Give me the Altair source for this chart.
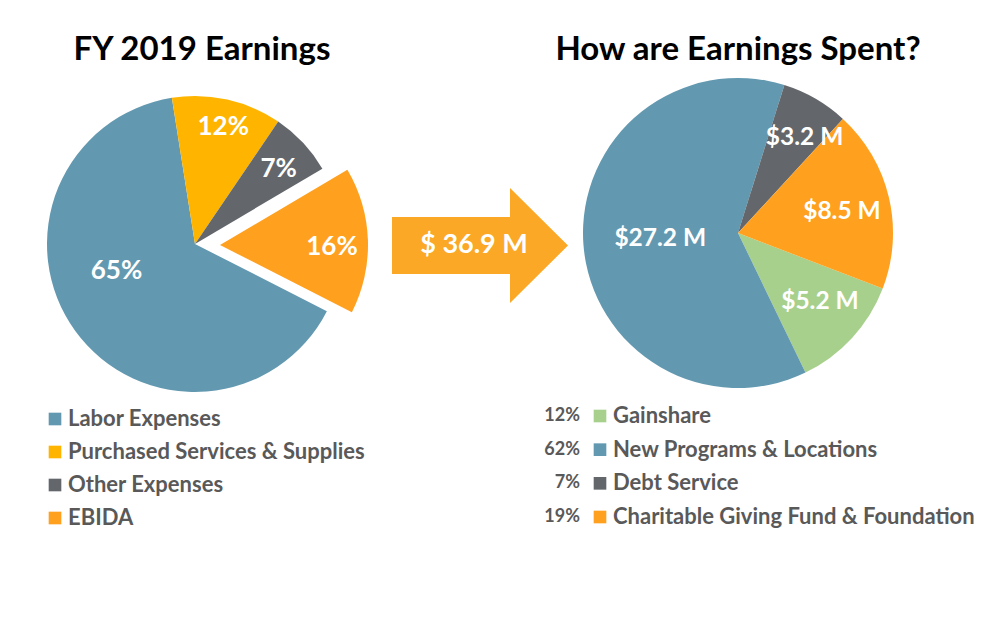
import math
import altair as alt
import pandas as pd

# ---------------- data ----------------
LEFT_TITLE = "FY 2019 Earnings"
RIGHT_TITLE = "How are Earnings Spent?"

LEFT_CATS = ["Labor Expenses", "Purchased Services & Supplies", "Other Expenses", "EBIDA"]
LEFT_PCT = [65, 12, 7, 16]

RIGHT_CATS = ["Gainshare", "New Programs & Locations", "Debt Service",
              "Charitable Giving Fund & Foundation"]
RIGHT_PCT = [12, 62, 7, 19]
RIGHT_AMT = ["$5.2 M", "$27.2 M", "$3.2 M", "$8.5 M"]

TOTAL_LABEL = "$ 36.9 M"
EXPLODED = "EBIDA"

# ---------------- styles / layout ----------------
FONT = "Lato"
LEFT_COLORS = ["#6399B0", "#FFB500", "#63676C", "#FFA01E"]
RIGHT_COLORS = ["#A8D08D", "#6399B0", "#63676C", "#FFA01E"]
ARROW_COLOR = "#FAA825"
LEGEND_GREY = "#595959"

LEFT_CENTER = (195, 244)
LEFT_R = 148
LEFT_START_DEG = 117
EXPLODE_DX, EXPLODE_DY = 25, 1
LEFT_LABEL_R = {"Labor Expenses": 83, "Purchased Services & Supplies": 120,
                "Other Expenses": 112, "EBIDA": 112}
LEFT_LABEL_NUDGE = {"Labor Expenses": 17, "Purchased Services & Supplies": 1,
                    "Other Expenses": 1.5, "EBIDA": 3}

RIGHT_CENTER = (738, 233)
RIGHT_R = 155
RIGHT_START_DEG = 111
RIGHT_LABEL_R = {"Gainshare": 107, "New Programs & Locations": 78,
                 "Debt Service": 116, "Charitable Giving Fund & Foundation": 106}
RIGHT_LABEL_NUDGE = {"Gainshare": -2.6, "New Programs & Locations": -0.5,
                     "Debt Service": 5, "Charitable Giving Fund & Foundation": 2}

ARROW_PATH = ("M-1,-0.324L0.341,-0.324L0.341,-0.653L1,0L0.341,0.653"
              "L0.341,0.324L-1,0.324Z")


def pie_table(cats, pct, labels, lr, nudge):
    return pd.DataFrame({
        "cat": cats,
        "pct": pct,
        "order": list(range(len(cats))),
        "label": labels,
        "lr": [lr[c] for c in cats],
        "nudge": [nudge[c] for c in cats],
    })


def pie_base(df, start_deg):
    a0 = math.radians(start_deg)
    tscale = alt.Scale(domain=[0, 100], range=[a0, a0 + 2 * math.pi])
    base = (
        alt.Chart(df)
        .transform_window(cum="sum(pct)", sort=[alt.SortField("order")], frame=[None, 0])
        .transform_calculate(start="datum.cum - datum.pct",
                             mid="datum.cum - datum.pct / 2 + datum.nudge / 3.6")
    )
    return base, tscale


def arcs(base, tscale, cats, colors, center, r, dx=0, dy=0):
    return base.mark_arc(radius=r, stroke=None, xOffset=dx, yOffset=dy).encode(
        x=alt.value(center[0]), y=alt.value(center[1]),
        theta=alt.Theta("start:Q", scale=tscale, stack=None),
        theta2=alt.Theta2("cum:Q"),
        color=alt.Color("cat:N", scale=alt.Scale(domain=cats, range=colors), legend=None),
    )


def labels(base, tscale, center, size, dx=0, dy=0):
    return base.mark_text(font=FONT, fontWeight="bold", fontSize=size, color="white",
                          align="center", baseline="middle", xOffset=dx, yOffset=dy).encode(
        x=alt.value(center[0]), y=alt.value(center[1]),
        theta=alt.Theta("mid:Q", scale=tscale, stack=None),
        radius=alt.Radius("lr:Q", scale=None),
        text="label:N",
    )


def title(text, cx, cy, size):
    return alt.Chart(pd.DataFrame({"t": [text]})).mark_text(
        font=FONT, fontWeight="bold", fontSize=size, color="black",
        align="center", baseline="middle").encode(
        x=alt.value(cx), y=alt.value(cy), text="t:N")


# ---------------- left pie ----------------
left_df = pie_table(LEFT_CATS, LEFT_PCT, [f"{p}%" for p in LEFT_PCT],
                    LEFT_LABEL_R, LEFT_LABEL_NUDGE)
lbase, ltheta = pie_base(left_df, LEFT_START_DEG)
is_exp = f"datum.cat == '{EXPLODED}'"
not_exp = f"datum.cat != '{EXPLODED}'"

left_y = alt.Y("cat:N", sort=LEFT_CATS, axis=None,
               scale=alt.Scale(type="point", range=[419, 518], padding=0))
left_leg_sq = alt.Chart(left_df).mark_square(size=160, opacity=1).encode(
    x=alt.value(55), y=left_y,
    color=alt.Color("cat:N", scale=alt.Scale(domain=LEFT_CATS, range=LEFT_COLORS), legend=None))
left_leg_tx = alt.Chart(left_df).mark_text(
    font=FONT, fontWeight="bold", fontSize=22, color=LEGEND_GREY,
    align="left", baseline="middle").encode(
    x=alt.value(68), y=left_y, text="cat:N")

left = alt.layer(
    title(LEFT_TITLE, 202, 50, 33),
    arcs(lbase.transform_filter(not_exp), ltheta, LEFT_CATS, LEFT_COLORS, LEFT_CENTER, LEFT_R),
    arcs(lbase.transform_filter(is_exp), ltheta, LEFT_CATS, LEFT_COLORS, LEFT_CENTER, LEFT_R,
         EXPLODE_DX, EXPLODE_DY),
    labels(lbase.transform_filter(not_exp), ltheta, LEFT_CENTER, 26),
    labels(lbase.transform_filter(is_exp), ltheta, LEFT_CENTER, 26, EXPLODE_DX, EXPLODE_DY),
    left_leg_sq, left_leg_tx,
)

# ---------------- arrow ----------------
arrow_df = pd.DataFrame({"t": [TOTAL_LABEL]})
arrow = alt.layer(
    alt.Chart(arrow_df).mark_point(shape=ARROW_PATH, size=176 * 176, filled=True,
                                   opacity=1, color=ARROW_COLOR, strokeWidth=0).encode(
        x=alt.value(480), y=alt.value(245.5)),
    alt.Chart(arrow_df).mark_text(font=FONT, fontWeight="bold", fontSize=27, color="white",
                                  align="center", baseline="middle").encode(
        x=alt.value(474), y=alt.value(245), text="t:N"),
)

# ---------------- right pie ----------------
right_df = pie_table(RIGHT_CATS, RIGHT_PCT, RIGHT_AMT, RIGHT_LABEL_R, RIGHT_LABEL_NUDGE)
right_df["pct_label"] = [f"{p}%" for p in RIGHT_PCT]
rbase, rtheta = pie_base(right_df, RIGHT_START_DEG)

right_y = alt.Y("cat:N", sort=RIGHT_CATS, axis=None,
                scale=alt.Scale(type="point", range=[416, 517], padding=0))
right_leg_pct = alt.Chart(right_df).mark_text(
    font=FONT, fontWeight="bold", fontSize=18, color=LEGEND_GREY,
    align="right", baseline="middle").encode(
    x=alt.value(580), y=right_y, text="pct_label:N")
right_leg_sq = alt.Chart(right_df).mark_square(size=160, opacity=1).encode(
    x=alt.value(600), y=right_y,
    color=alt.Color("cat:N", scale=alt.Scale(domain=RIGHT_CATS, range=RIGHT_COLORS), legend=None))
right_leg_tx = alt.Chart(right_df).mark_text(
    font=FONT, fontWeight="bold", fontSize=22, color=LEGEND_GREY,
    align="left", baseline="middle").encode(
    x=alt.value(613), y=right_y, text="cat:N")

right = alt.layer(
    title(RIGHT_TITLE, 738, 50, 33),
    arcs(rbase, rtheta, RIGHT_CATS, RIGHT_COLORS, RIGHT_CENTER, RIGHT_R),
    labels(rbase, rtheta, RIGHT_CENTER, 24.5),
    right_leg_pct, right_leg_sq, right_leg_tx,
)

chart = (
    alt.layer(left, arrow, right)
    .resolve_scale(theta="independent", color="independent", y="independent")
    .properties(width=1000, height=625, padding=0, autosize="none", background="white")
    .configure_view(stroke=None)
)

chart.save("out.html", embed_options={"renderer": "svg", "actions": False})
